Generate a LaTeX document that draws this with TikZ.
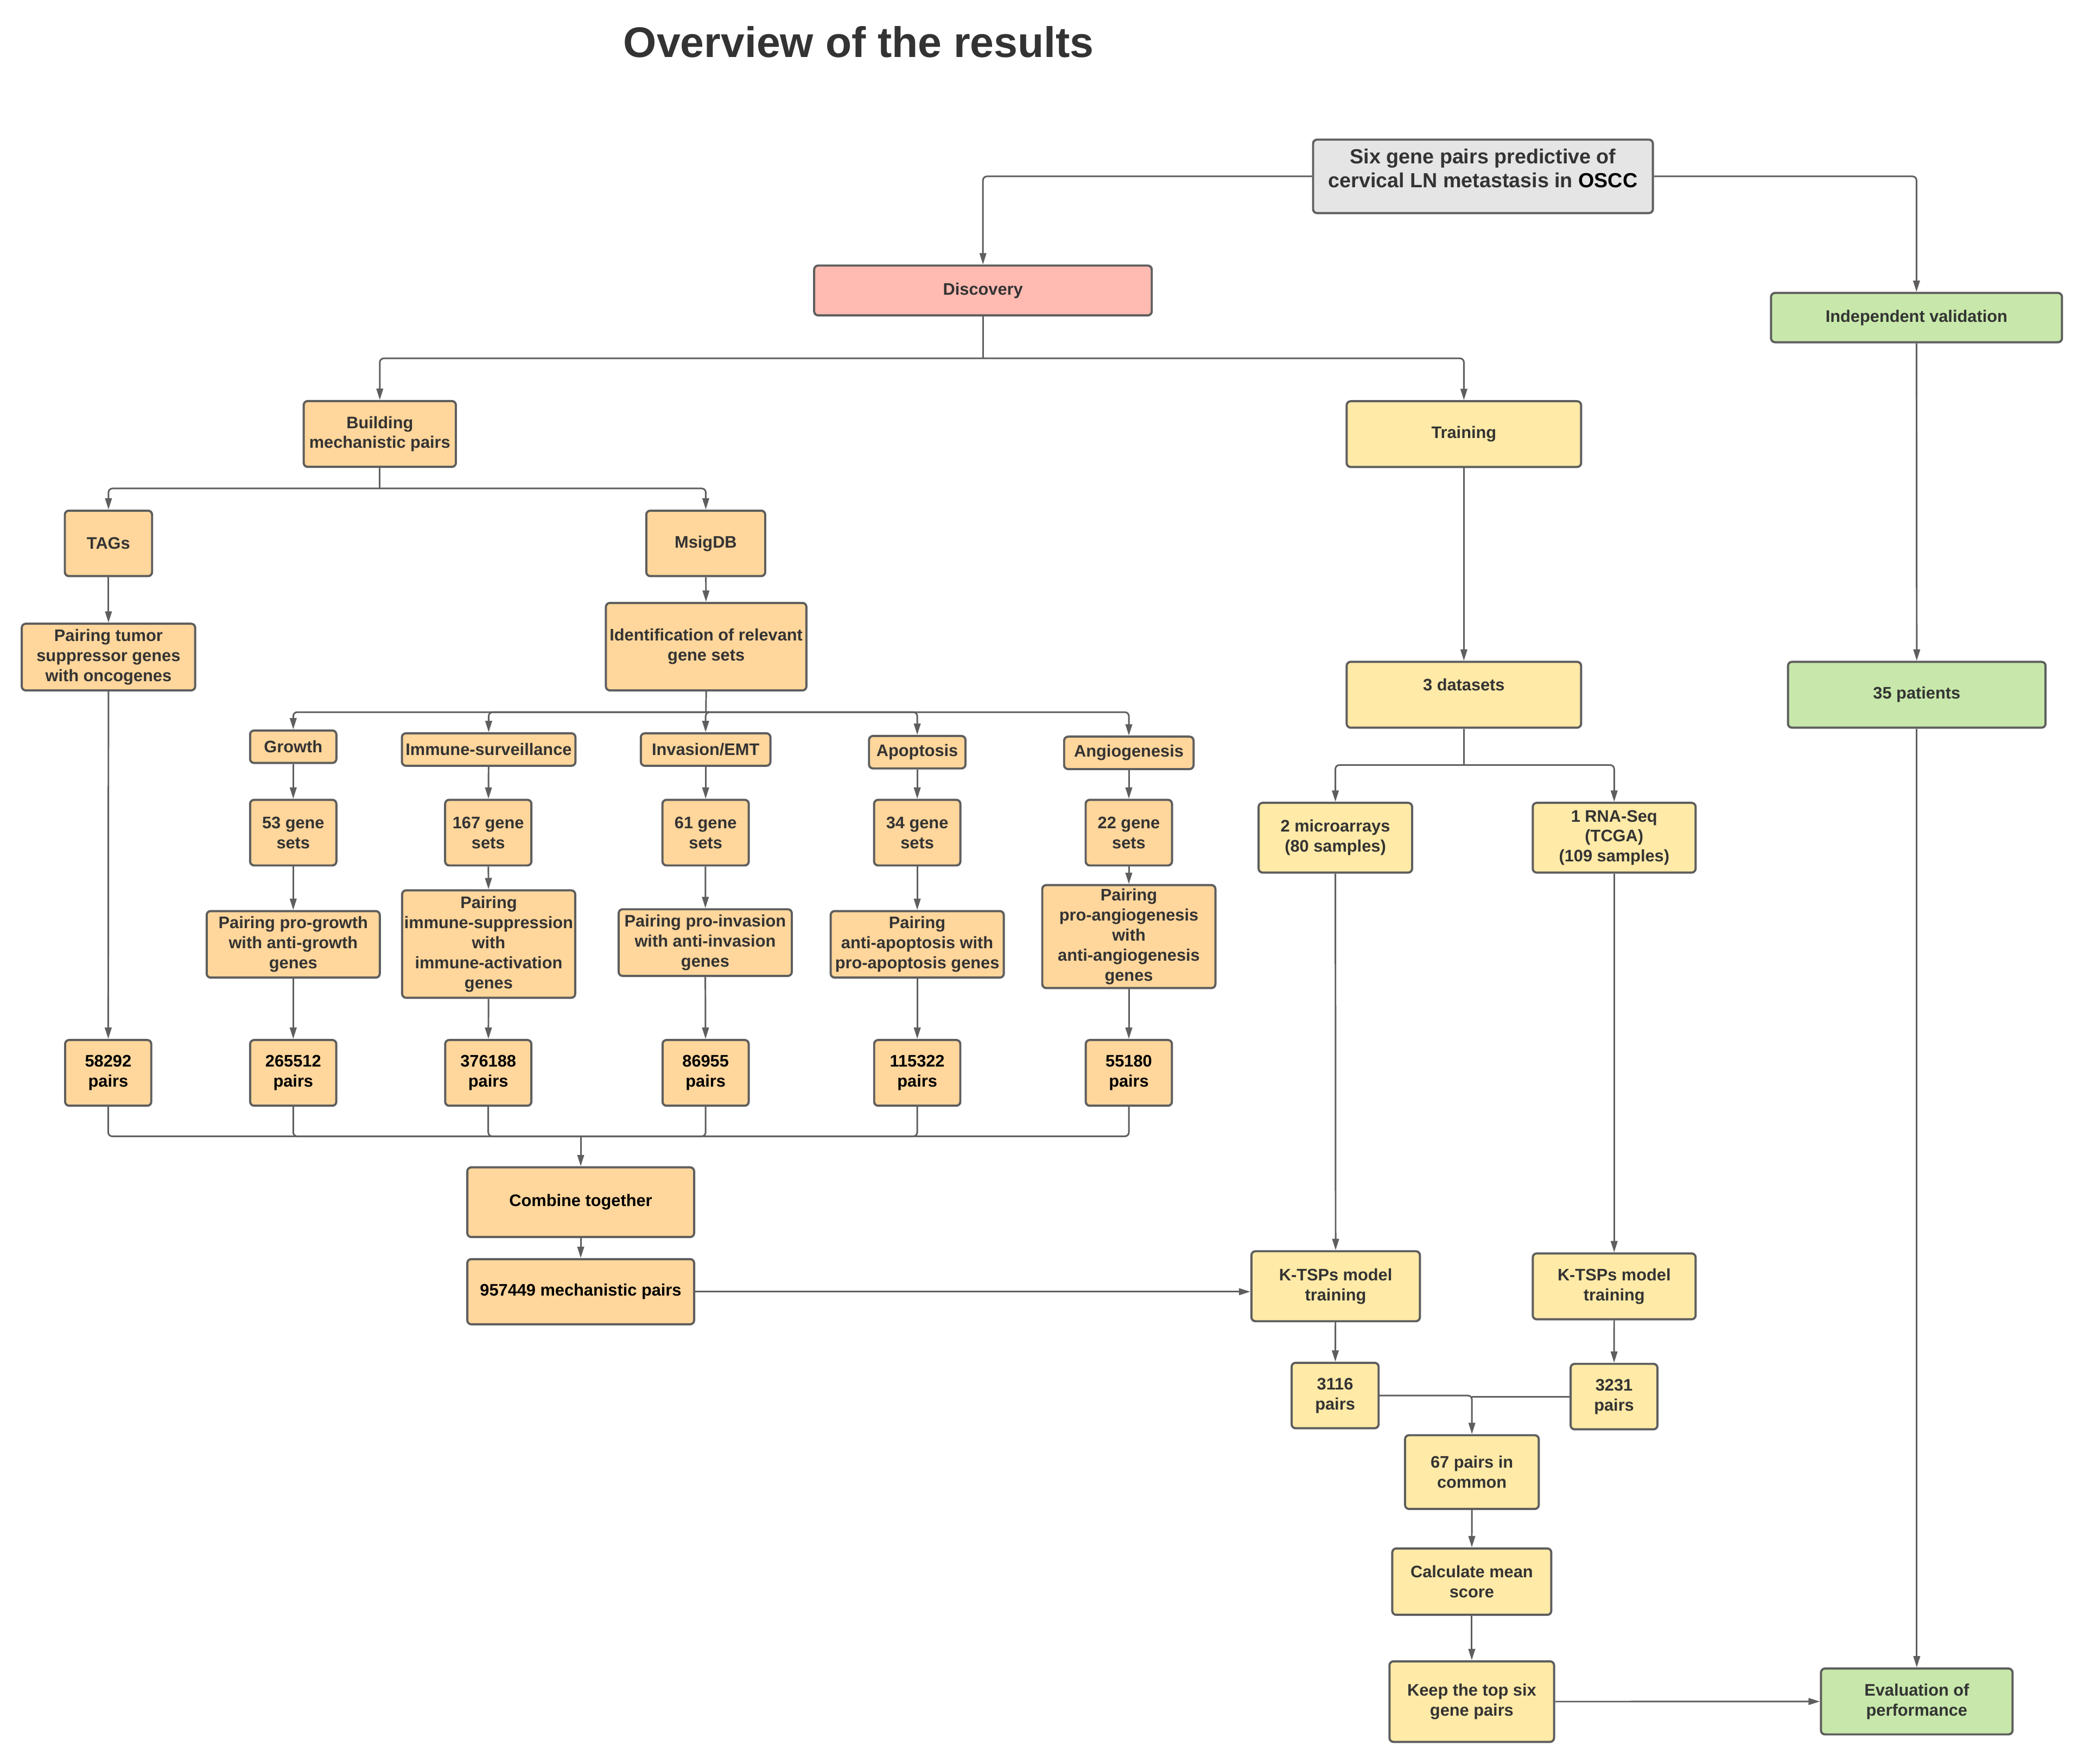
\documentclass[tikz,border=0pt]{standalone}
\usepackage{fontspec}
\setmainfont{Liberation Sans}
\usetikzlibrary{arrows.meta}
\definecolor{boxorange}{HTML}{FFD69B}
\definecolor{boxyellow}{HTML}{FFEAA7}
\definecolor{boxpink}{HTML}{FFBAB1}
\definecolor{boxgreen}{HTML}{C7E8AA}
\definecolor{boxgray}{HTML}{E5E5E5}
\definecolor{edgegray}{HTML}{5E5E5E}
\definecolor{txtgray}{HTML}{333333}
\begin{document}
\begin{tikzpicture}
[
    x=1pt, y=-1pt,
    box/.style={draw=edgegray, line width=1.6pt, rounded corners=3pt, align=center, inner sep=1pt, text=txtgray, font=\fontsize{12.5}{15}\selectfont\bfseries},
    obox/.style={box, fill=boxorange},
    ybox/.style={box, fill=boxyellow},
    gbox/.style={box, fill=boxgreen},
    cat/.style={obox, minimum height=24.3pt},
    sets/.style={obox, minimum width=64.6pt, minimum height=49.1pt},
    pairing/.style={obox, minimum width=129.6pt},
    npairs/.style={obox, text=black, minimum width=64.5pt, minimum height=49.2pt},
    con/.style={draw=edgegray, line width=1.2pt, rounded corners=3pt},
    arr/.style={con, -{Triangle[length=8.5pt,width=5pt]}},
]
\useasboundingbox (0,0) rectangle (1560,1320);
\node[anchor=base, text=txtgray, font=\fontsize{32}{38}\selectfont\bfseries] (title) at (642.8,42.7) {Overview of the results};

\node[box, fill=boxgray, minimum width=254.4pt, minimum height=55pt, font=\fontsize{15.3}{18.2}\selectfont\bfseries] (six) at (1110.1,132)
{Six gene pairs predictive of\\cervical LN metastasis in \textcolor{black}{OSCC}\\[-6pt]\mbox{}};
\node[box, fill=boxpink, minimum width=252.7pt, minimum height=37.3pt] (disc) at (735.8,217.4) {Discovery};
\node[gbox, minimum width=217.8pt, minimum height=36.9pt] (indep) at (1434.6,237.7) {Independent validation};

\node[obox, minimum width=113.9pt, minimum height=49.3pt] (build) at (284.3,324.8) {Building\\mechanistic pairs};
\node[ybox, minimum width=175.5pt, minimum height=49.2pt] (train) at (1095.8,324.9) {Training};
\node[obox, minimum width=65.3pt, minimum height=49pt] (tags) at (81.2,406.7) {TAGs};
\node[obox, minimum width=89pt, minimum height=49pt] (msig) at (528.3,406.7) {MsigDB};
\node[obox, minimum width=129.8pt, minimum height=49.9pt] (ptum) at (81.2,491.8) {Pairing tumor\\suppressor genes\\with oncogenes};
\node[obox, minimum width=150.1pt, minimum height=65.5pt] (ident) at (528.6,484) {Identification of relevant\\gene sets};
\node[ybox, minimum width=175.5pt, minimum height=49.3pt] (dsets) at (1095.8,520) {3 datasets\\ \mbox{}};
\node[gbox, minimum width=192.8pt, minimum height=49.3pt] (pats) at (1434.8,520) {35 patients};

\node[cat, minimum width=64.6pt] (growth) at (219.5,558.9) {Growth};
\node[cat, minimum width=129.9pt] (immune) at (365.8,561) {Immune-surveillance};
\node[cat, minimum width=97pt] (invas) at (528.2,561) {Invasion/EMT};
\node[cat, minimum width=72.2pt] (apopt) at (686.6,563) {Apoptosis};
\node[cat, minimum width=96.9pt] (angio) at (845,563.5) {Angiogenesis};

\node[sets] (gs53) at (219.5,623.2) {53 gene\\sets};
\node[sets] (gs167) at (365.5,623.2) {167 gene\\sets};
\node[sets] (gs61) at (528.2,623.2) {61 gene\\sets};
\node[sets] (gs34) at (686.6,623.2) {34 gene\\sets};
\node[sets] (gs22) at (845,623.2) {22 gene\\sets};
\node[ybox, minimum width=114.9pt, minimum height=52.2pt] (micro) at (999.6,627) {2 microarrays\\(80 samples)};
\node[ybox, minimum width=121.9pt, minimum height=52.2pt] (rnaseq) at (1208.3,627) {1 RNA-Seq\\(TCGA)\\(109 samples)};

\node[pairing, minimum height=49.8pt] (pgrow) at (219.5,706.8) {Pairing pro-growth\\with anti-growth\\genes};
\node[pairing, minimum height=80.4pt] (pimm) at (365.8,706.6) {Pairing\\immune-suppression\\with\\immune-activation\\genes};
\node[pairing, minimum height=49.9pt] (pinv) at (527.9,705.5) {Pairing pro-invasion\\with anti-invasion\\genes};
\node[pairing, minimum height=49.8pt] (papo) at (686.6,706.8) {Pairing\\anti-apoptosis with\\pro-apoptosis genes};
\node[pairing, minimum height=77.1pt] (pang) at (845,701) {Pairing\\pro-angiogenesis\\with\\anti-angiogenesis\\genes};

\node[npairs] (n58) at (81,803) {58292\\pairs};
\node[npairs] (n265) at (219.5,803) {265512\\pairs};
\node[npairs] (n376) at (365.5,803) {376188\\pairs};
\node[npairs] (n869) at (528.2,803) {86955\\pairs};
\node[npairs] (n115) at (686.6,803) {115322\\pairs};
\node[npairs] (n551) at (845,803) {55180\\pairs};

\node[obox, text=black, minimum width=169.8pt, minimum height=52.2pt] (comb) at (434.7,899.8) {Combine together};
\node[obox, text=black, minimum width=169.8pt, minimum height=48.8pt] (mech) at (434.7,966.8) {957449 mechanistic pairs};
\node[ybox, minimum width=126.1pt, minimum height=52.4pt] (ktl) at (999.8,962.7) {K-TSPs model\\training};
\node[ybox, minimum width=121.9pt, minimum height=49.3pt] (ktr) at (1208.3,962.8) {K-TSPs model\\training};
\node[ybox, minimum width=65.1pt, minimum height=49pt] (p3116) at (999.4,1044.5) {3116\\pairs};
\node[ybox, minimum width=65pt, minimum height=49pt] (p3231) at (1208.2,1045.3) {3231\\pairs};
\node[ybox, minimum width=100.1pt, minimum height=55.2pt] (common) at (1101.8,1101.8) {67 pairs in\\common};
\node[ybox, minimum width=119pt, minimum height=49.7pt] (calc) at (1101.7,1183.8) {Calculate mean\\score};
\node[ybox, minimum width=123.2pt, minimum height=60.3pt] (keep) at (1101.7,1273.6) {Keep the top six\\gene pairs};
\node[gbox, minimum width=143.4pt, minimum height=49.3pt] (evalp) at (1434.8,1273.5) {Evaluation of\\performance};

\coordinate (jdisc) at (735.8,268.2);
\coordinate (jbuild) at (284.3,365.6);
\coordinate (jident) at (528.4,533);
\coordinate (jpairs) at (434.7,850.5);
\coordinate (jdsets) at (1095.8,572.6);

\draw[arr] (six.west) -| (disc.north);
\draw[arr] (six.east) -| (indep.north);
\draw[con] (disc.south) -- (jdisc);
\draw[arr] (jdisc) -| (build.north);
\draw[arr] (jdisc) -| (train.north);
\draw[con] (build.south) -- (jbuild);
\draw[arr] (jbuild) -| (tags.north);
\draw[arr] (jbuild) -| (msig.north);
\draw[arr] (tags) -- (ptum);
\draw[arr] (msig) -- (ident);
\draw[con] (ident.south) -- (jident);
\foreach \c in {growth,immune,invas,apopt,angio}
    \draw[arr] (jident) -| (\c.north);
\foreach \a/\b/\c/\d in {growth/gs53/pgrow/n265, immune/gs167/pimm/n376, invas/gs61/pinv/n869, apopt/gs34/papo/n115, angio/gs22/pang/n551}
{
    \draw[arr] (\a) -- (\b);
    \draw[arr] (\b) -- (\c);
    \draw[arr] (\c) -- (\d);
}
\draw[arr] (ptum) -- (n58);
\foreach \d in {n58,n265,n376,n869,n115,n551}
    \draw[con] (\d.south) |- (jpairs);
\draw[arr] (jpairs) -- (comb.north);
\draw[arr] (comb) -- (mech);
\draw[arr] (mech.east) -- (mech.east -| ktl.west);
\draw[arr] (train) -- (dsets);
\draw[con] (dsets.south) -- (jdsets);
\draw[arr] (jdsets) -| (micro.north);
\draw[arr] (jdsets) -| (rnaseq.north);
\draw[arr] (micro) -- (ktl);
\draw[arr] (rnaseq) -- (ktr);
\draw[arr] (ktl) -- (p3116);
\draw[arr] (ktr) -- (p3231);
\draw[arr] (p3116.east) -| (common.north);
\draw[con] (p3231.west) -- (p3231.west -| common.north);
\draw[arr] (common) -- (calc);
\draw[arr] (calc) -- (keep);
\draw[arr] (keep) -- (evalp);
\draw[arr] (indep) -- (pats);
\draw[arr] (pats) -- (evalp);
\end{tikzpicture}
\end{document}
